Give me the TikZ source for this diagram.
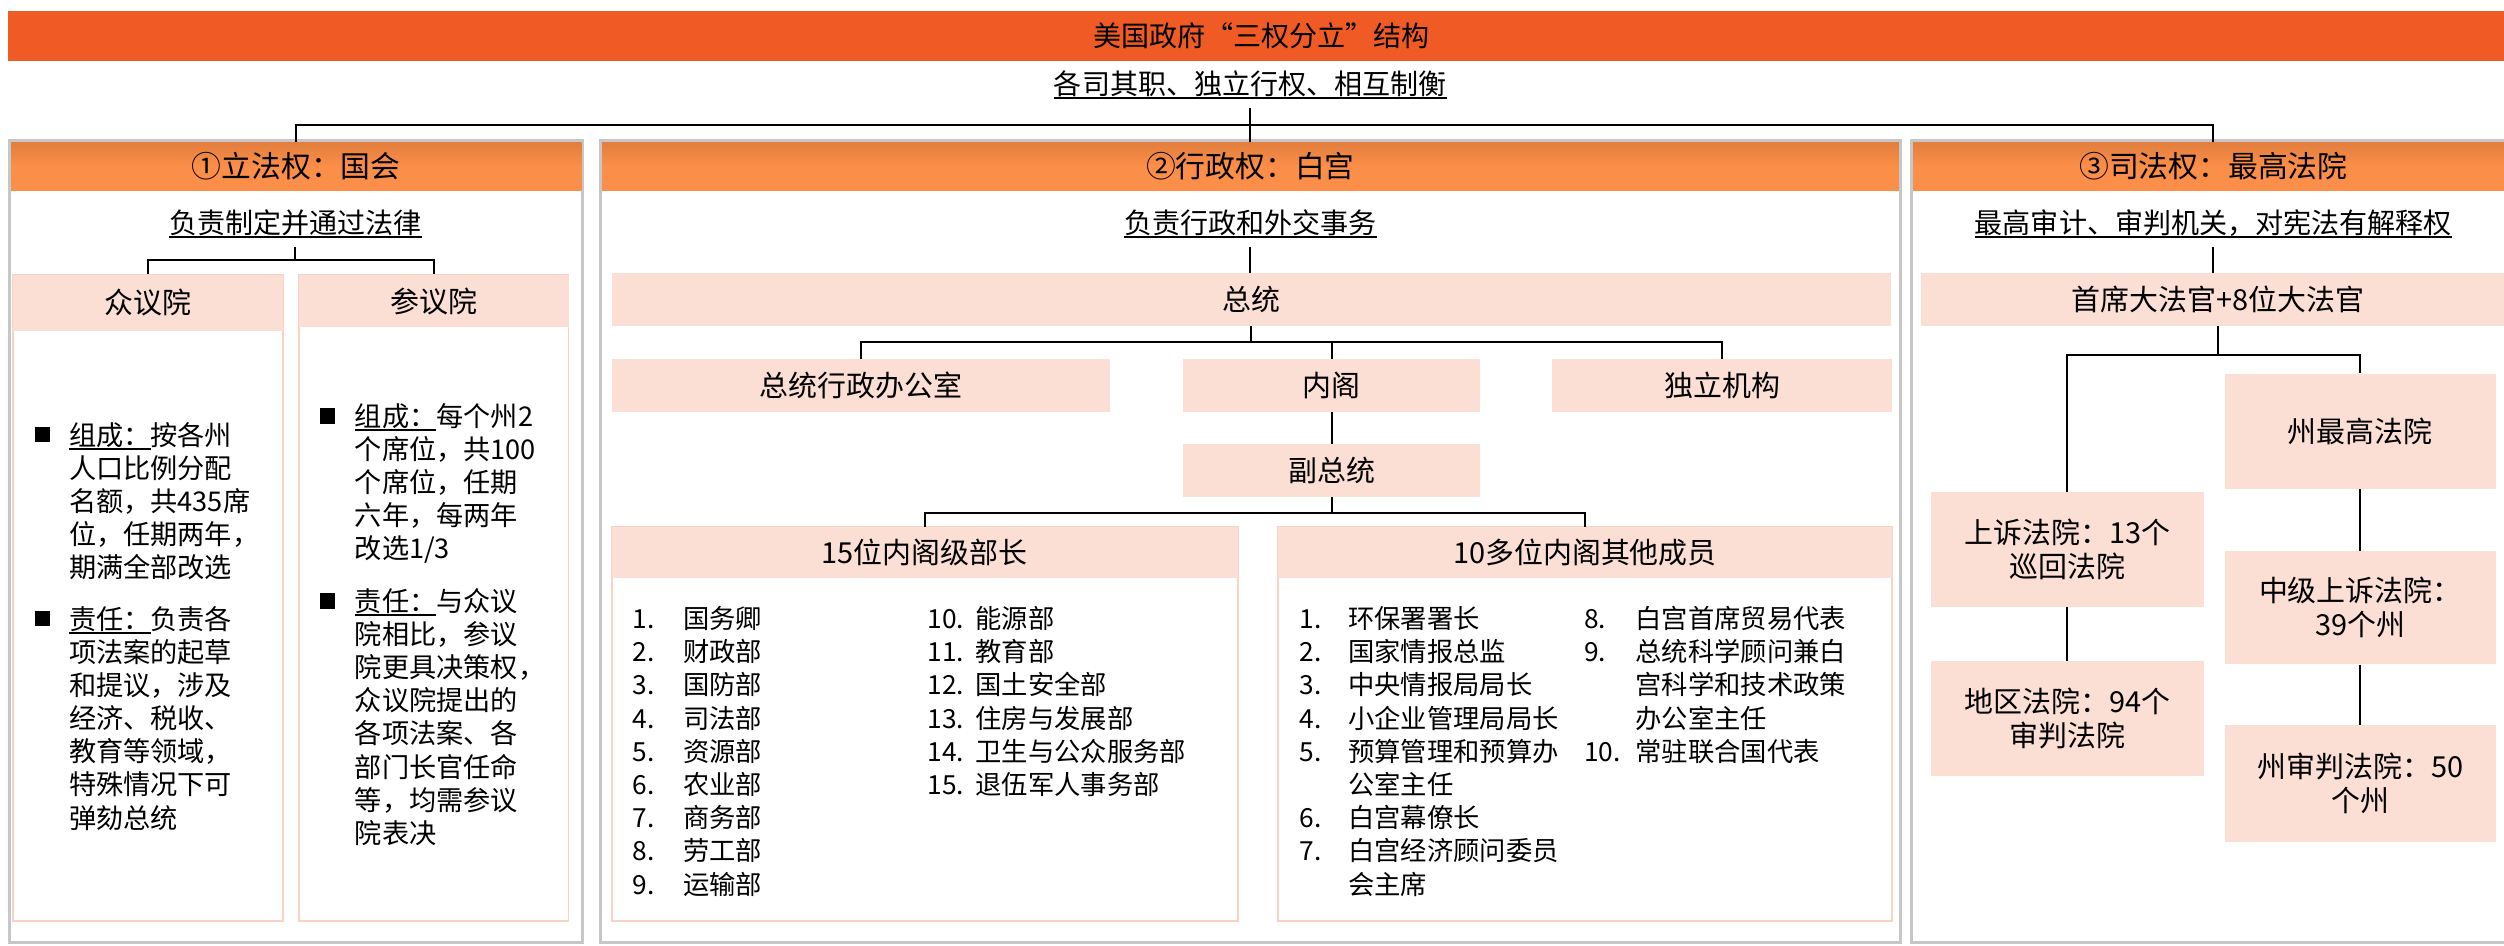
\documentclass[tikz,border=0pt]{standalone}
\usepackage{fontspec}
\setmainfont{Noto Sans CJK SC}
\usetikzlibrary{fit}
\definecolor{ttl}{RGB}{240,90,36}
\definecolor{hdr}{RGB}{251,142,72}
\definecolor{hdrtop}{RGB}{226,126,62}
\definecolor{pinkfill}{RGB}{251,222,212}
\definecolor{pinkline}{RGB}{249,210,198}
\newsavebox\udlbox
\newcommand{\udl}[1]{\sbox\udlbox{#1}\rlap{\rule[-0.17em]{\wd\udlbox}{1.1pt}}\usebox\udlbox}

\begin{document}
\begin{tikzpicture}[x=0.032cm,y=-0.032cm]
  \tikzstyle{panel}=[draw=black!22,line width=1.8pt,fill=white,inner sep=0pt]
  \tikzstyle{hdrband}=[top color=hdrtop,bottom color=hdr,middle color=hdr,inner sep=0pt]
  \tikzstyle{pinkbox}=[fill=pinkfill,inner sep=0pt]
  \tikzstyle{bodybox}=[draw=pinkline,line width=1.1pt,fill=white,inner sep=0pt]
  \tikzstyle{boxtext}=[align=center,font=\fontsize{16.5}{19.6}\selectfont]
  \tikzstyle{bandtext}=[font=\fontsize{17}{20}\selectfont]
  \tikzstyle{heading}=[inner sep=5pt,font=\fontsize{16}{19}\selectfont]
  \tikzstyle{paratext}=[anchor=base west,inner sep=0pt,text width=5cm,align=left,font=\fontsize{15.5}{18.9}\selectfont]
  \tikzstyle{listtext}=[anchor=base west,inner sep=0pt,text width=6cm,align=left,font=\fontsize{15}{18.93}\selectfont]
  \tikzstyle{bul}=[fill=black,inner sep=0pt,minimum size=0.31cm]
  \tikzstyle{wire}=[line width=1.2pt]

  \useasboundingbox (0,0) rectangle (1568,592);
  \fill[white] (0,0) rectangle (1568,592);

  \node[fill=ttl,inner sep=0pt,fit={(5,7) (1575,38)},label={[font=\fontsize{16}{19}\selectfont]center:美国政府“三权分立”结构}] (T_0) {};
  \node[heading] (T_1) at (783,53) {\udl{各司其职、独立行权、相互制衡}};
  \coordinate (J_0) at (783,78);

  \node[panel,fit={(6,88) (365,590)}] (P_1) {};
  \node[panel,fit={(376,88) (1190,590)}] (P_2) {};
  \node[panel,fit={(1197,88) (1585,590)}] (P_3) {};
  \node[hdrband,fit={(7,89) (364,119)},label={[bandtext]center:①立法权：国会}] (H_1) {};
  \node[hdrband,fit={(377,89) (1189,119)},label={[bandtext]center:②行政权：白宫}] (H_2) {};
  \node[hdrband,fit={(1198,89) (1574,119)},label={[bandtext]center:③司法权：最高法院}] (H_3) {};

  \draw[wire] (T_1.south) -- (J_0) -- (H_2.north);
  \draw[wire] (J_0) -| (H_1.north);
  \draw[wire] (J_0) -| (H_3.north);

  \node[heading] (D_1) at (185,140) {\udl{负责制定并通过法律}};
  \node[heading] (D_2) at (783,140) {\udl{负责行政和外交事务}};
  \node[heading] (D_3) at (1386,140) {\udl{最高审计、审判机关，对宪法有解释权}};

  \node[bodybox,fit={(8,172) (177,577)}] (L_1) {};
  \node[bodybox,fit={(187,172) (356,577)}] (L_2) {};
  \node[pinkbox,fit={(8,172) (177,207)},label={[boxtext]center:众议院}] (L_3) {};
  \node[pinkbox,fit={(187,172) (356,205)},label={[boxtext]center:参议院}] (L_4) {};
  \coordinate (J_1) at (185,163);
  \draw[wire] (D_1.south) -- (J_1) -| (L_3.north);
  \draw[wire] (J_1) -| (L_4.north);

  \node[bul] (B_1) at (26.6,272) {};
  \node[bul] (B_2) at (26.6,387.4) {};
  \node[bul] (B_3) at (205,260.5) {};
  \node[bul] (B_4) at (205,376.3) {};
  \node[paratext] (L_5) at (43,278.8) {\udl{组成：}按各州\\人口比例分配\\名额，共435席\\位，任期两年，\\期满全部改选};
  \node[paratext] (L_6) at (43,394) {\udl{责任：}负责各\\项法案的起草\\和提议，涉及\\经济、税收、\\教育等领域，\\特殊情况下可\\弹劾总统};
  \node[paratext] (L_7) at (222,267) {\udl{组成：}每个州2\\个席位，共100\\个席位，任期\\六年，每两年\\改选1/3};
  \node[paratext] (L_8) at (222,382.8) {\udl{责任：}与众议\\院相比，参议\\院更具决策权，\\众议院提出的\\各项法案、各\\部门长官任命\\等，均需参议\\院表决};

  \node[pinkbox,fit={(383,171) (1184,204)},label={[boxtext]center:总统}] (E_0) {};
  \draw[wire] (D_2.south) -- (D_2.south |- E_0.north);
  \node[pinkbox,fit={(383,225) (695,258)},label={[boxtext]center:总统行政办公室}] (E_1) {};
  \node[pinkbox,fit={(741,225) (927,258)},label={[boxtext]center:内阁}] (E_2) {};
  \node[pinkbox,fit={(972,225) (1185,258)},label={[boxtext]center:独立机构}] (E_3) {};
  \node[pinkbox,fit={(741,278) (927,311)},label={[boxtext]center:副总统}] (E_4) {};
  \draw[wire] (E_0.south) -- ++(0,10) -| (E_1.north);
  \draw[wire] (E_0.south) -- ++(0,10) -| (E_2.north);
  \draw[wire] (E_0.south) -- ++(0,10) -| (E_3.north);
  \draw[wire] (E_2) -- (E_4);

  \node[bodybox,fit={(383,330) (775,577)}] (E_5) {};
  \node[bodybox,fit={(800,330) (1185,577)}] (E_6) {};
  \node[pinkbox,fit={(383,330) (775,362)},label={[boxtext]center:15位内阁级部长}] (E_7) {};
  \node[pinkbox,fit={(800,330) (1185,362)},label={[boxtext]center:10多位内阁其他成员}] (E_8) {};
  \draw[wire] (E_4.south) -- ++(0,10) -| (E_7.north);
  \draw[wire] (E_4.south) -- ++(0,10) -| (E_8.north);

  \node[listtext] (E_9) at (396,393.5) {1.\\2.\\3.\\4.\\5.\\6.\\7.\\8.\\9.};
  \node[listtext] (E_10) at (427.5,393.5) {国务卿\\财政部\\国防部\\司法部\\资源部\\农业部\\商务部\\劳工部\\运输部};
  \node[listtext] (E_11) at (580.6,393.5) {10.\\11.\\12.\\13.\\14.\\15.};
  \node[listtext] (E_12) at (610.6,393.5) {能源部\\教育部\\国土安全部\\住房与发展部\\卫生与公众服务部\\退伍军人事务部};
  \node[listtext] (E_13) at (813.6,393.5) {1.\\2.\\3.\\4.\\5.\\\mbox{}\\6.\\7.};
  \node[listtext] (E_14) at (844,393.5) {环保署署长\\国家情报总监\\中央情报局局长\\小企业管理局局长\\预算管理和预算办\\公室主任\\白宫幕僚长\\白宫经济顾问委员\\会主席};
  \node[listtext] (E_15) at (991.7,393.5) {8.\\9.\\\mbox{}\\\mbox{}\\10.};
  \node[listtext] (E_16) at (1024,393.5) {白宫首席贸易代表\\总统科学顾问兼白\\宫科学和技术政策\\办公室主任\\常驻联合国代表};

  \node[pinkbox,fit={(1203,171) (1575,204)},label={[boxtext]center:首席大法官+8位大法官}] (C_0) {};
  \draw[wire] (D_3.south) -- (D_3.south |- C_0.north);
  \node[pinkbox,fit={(1393,234) (1563,306)},label={[boxtext]center:州最高法院}] (C_1) {};
  \node[pinkbox,fit={(1209,308) (1380,380)},label={[boxtext]center:上诉法院：13个\\巡回法院}] (C_2) {};
  \node[pinkbox,fit={(1393,345) (1563,416)},label={[boxtext]center:中级上诉法院：\\39个州}] (C_3) {};
  \node[pinkbox,fit={(1209,414) (1380,486)},label={[boxtext]center:地区法院：94个\\审判法院}] (C_4) {};
  \node[pinkbox,fit={(1393,454) (1563,527)},label={[boxtext]center:州审判法院：50\\个州}] (C_5) {};
  \draw[wire] (C_0.south) -- ++(0,18) -| (C_2.north);
  \draw[wire] (C_0.south) -- ++(0,18) -| (C_1.north);
  \draw[wire] (C_2) -- (C_4);
  \draw[wire] (C_1) -- (C_3);
  \draw[wire] (C_3) -- (C_5);
\end{tikzpicture}
\end{document}
